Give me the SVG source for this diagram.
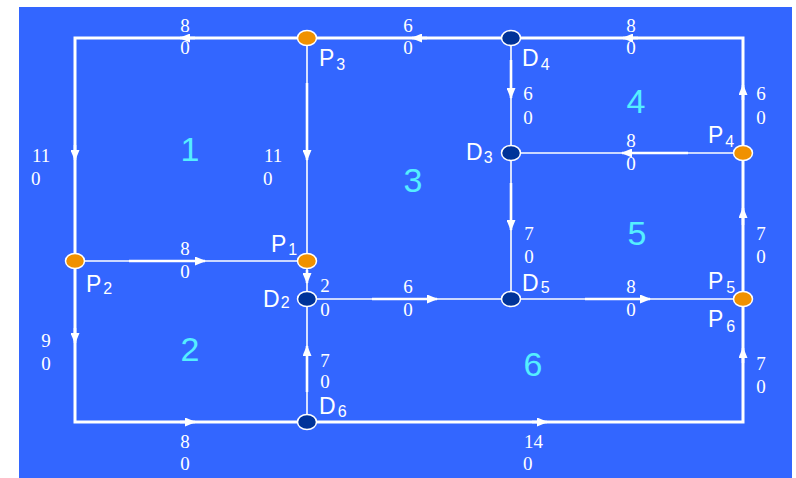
<svg xmlns="http://www.w3.org/2000/svg" width="796" height="478" viewBox="0 0 796 478">
<style>
.bg{fill:#3366FF}
.outer{fill:none;stroke:#FFFFFF;stroke-width:3;stroke-linejoin:miter}
.inner{fill:none;stroke:#FFFFFF;stroke-width:1.6}
.seg{fill:none;stroke:#FFFFFF;stroke-width:2.6;marker-end:url(#ah)}
.tip{fill:none;stroke:#FFFFFF;stroke-width:2.6;marker-end:url(#ah)}
.p{fill:#F09100;stroke:#FFFFFF;stroke-width:1.5}
.d{fill:#003399;stroke:#FFFFFF;stroke-width:1.5}
.w{font-family:"Liberation Serif","Times New Roman",serif;font-size:19px;fill:#FFFFFF}
.c{text-anchor:middle}
.nl{font-family:"Liberation Sans",Arial,sans-serif;font-size:23px;fill:#FFFFFF}
.sub{font-size:16px}
.rg{font-family:"Liberation Sans",Arial,sans-serif;font-size:34px;fill:#55EEFF;text-anchor:middle}
</style>
<defs>
<marker id="ah" markerUnits="userSpaceOnUse" markerWidth="11" markerHeight="9" refX="10" refY="4.5" orient="auto">
<path d="M0,0 L11,4.5 L0,9 z" fill="#FFFFFF"/>
</marker>
</defs>
<rect class="bg" x="19" y="7" width="773" height="471"/>
<g id="connectors">
<polyline class="outer" points="307,38 75,38 75,261"/>
<line class="outer" x1="511" y1="38" x2="307" y2="38"/>
<polyline class="outer" points="743,153 743,38 511,38"/>
<polyline class="outer" points="75,261 75,422 307,422"/>
<polyline class="outer" points="307,422 743,422 743,299"/>
<line class="outer" x1="743" y1="299" x2="743" y2="153"/>
<line class="inner" x1="307" y1="38" x2="307" y2="261"/>
<line class="inner" x1="75" y1="261" x2="307" y2="261"/>
<line class="inner" x1="307" y1="261" x2="307" y2="299"/>
<line class="inner" x1="511" y1="38" x2="511" y2="153"/>
<line class="inner" x1="743" y1="153" x2="511" y2="153"/>
<line class="inner" x1="511" y1="153" x2="511" y2="299"/>
<line class="inner" x1="307" y1="299" x2="511" y2="299"/>
<line class="inner" x1="511" y1="299" x2="743" y2="299"/>
<line class="inner" x1="307" y1="422" x2="307" y2="299"/>
<line class="tip" x1="195" y1="38" x2="180" y2="38"/>
<line class="tip" x1="75" y1="145" x2="75" y2="160"/>
<line class="tip" x1="427" y1="38" x2="412" y2="38"/>
<line class="tip" x1="638" y1="38" x2="623" y2="38"/>
<line class="tip" x1="743" y1="100" x2="743" y2="85"/>
<line class="seg" x1="307" y1="83" x2="307" y2="160"/>
<line class="seg" x1="511" y1="60" x2="511" y2="98"/>
<line class="seg" x1="688" y1="153" x2="622" y2="153"/>
<line class="seg" x1="129" y1="261" x2="205" y2="261"/>
<line class="tip" x1="307" y1="270" x2="307" y2="283"/>
<line class="seg" x1="511" y1="183" x2="511" y2="230"/>
<line class="tip" x1="743" y1="225" x2="743" y2="208"/>
<line class="seg" x1="372" y1="299" x2="437" y2="299"/>
<line class="seg" x1="585" y1="299" x2="650" y2="299"/>
<line class="tip" x1="75" y1="328" x2="75" y2="343"/>
<line class="seg" x1="307" y1="392" x2="307" y2="346"/>
<line class="tip" x1="180" y1="422" x2="195" y2="422"/>
<line class="tip" x1="532" y1="422" x2="547" y2="422"/>
<line class="tip" x1="743" y1="363" x2="743" y2="348"/>
</g>
<g id="edge-labels">
<text class="w c" x="185" y="32">8</text><text class="w c" x="185" y="54">0</text>
<text class="w c" x="408" y="32">6</text><text class="w c" x="408" y="54">0</text>
<text class="w c" x="631" y="32">8</text><text class="w c" x="631" y="54">0</text>
<text class="w c" x="528" y="100">6</text><text class="w c" x="528" y="124">0</text>
<text class="w c" x="761" y="100">6</text><text class="w c" x="761" y="124">0</text>
<text class="w c" x="631" y="147">8</text><text class="w c" x="631" y="170">0</text>
<text class="w" x="32" y="162">11</text><text class="w" x="31" y="185">0</text>
<text class="w" x="264" y="162">11</text><text class="w" x="263" y="185">0</text>
<text class="w c" x="185" y="255">8</text><text class="w c" x="185" y="278">0</text>
<text class="w c" x="325" y="292">2</text><text class="w c" x="325" y="316">0</text>
<text class="w c" x="408" y="293">6</text><text class="w c" x="408" y="316">0</text>
<text class="w c" x="529" y="240">7</text><text class="w c" x="529" y="263">0</text>
<text class="w c" x="761" y="240">7</text><text class="w c" x="761" y="263">0</text>
<text class="w c" x="631" y="293">8</text><text class="w c" x="631" y="316">0</text>
<text class="w c" x="46" y="347">9</text><text class="w c" x="46" y="370">0</text>
<text class="w c" x="325" y="367">7</text><text class="w c" x="325" y="388">0</text>
<text class="w c" x="185" y="448">8</text><text class="w c" x="185" y="470">0</text>
<text class="w" x="524" y="448">14</text><text class="w" x="523" y="470">0</text>
<text class="w c" x="761" y="370">7</text><text class="w c" x="761" y="393">0</text>
</g>
<g id="regions">
<text class="rg" x="190" y="161">1</text>
<text class="rg" x="190" y="361">2</text>
<text class="rg" x="413" y="192">3</text>
<text class="rg" x="636" y="113">4</text>
<text class="rg" x="637" y="245">5</text>
<text class="rg" x="533" y="376">6</text>
</g>
<g id="P3"><ellipse class="p" cx="307" cy="38" rx="9.5" ry="7.5"/><text class="nl" x="319" y="66">P<tspan class="sub" dx="2" dy="4">3</tspan></text></g>
<g id="D4"><ellipse class="d" cx="511" cy="38" rx="9.5" ry="7.5"/><text class="nl" x="522" y="66">D<tspan class="sub" dx="2" dy="4">4</tspan></text></g>
<g id="D3"><ellipse class="d" cx="511" cy="153" rx="9.5" ry="7.5"/><text class="nl" x="466" y="160">D<tspan class="sub" dx="1" dy="3">3</tspan></text></g>
<g id="P4"><ellipse class="p" cx="743" cy="153" rx="9.5" ry="7.5"/><text class="nl" x="708" y="143">P<tspan class="sub" dx="2" dy="4">4</tspan></text></g>
<g id="P2"><ellipse class="p" cx="75" cy="261" rx="9.5" ry="7.5"/><text class="nl" x="86" y="292">P<tspan class="sub" dx="2" dy="2">2</tspan></text></g>
<g id="P1"><ellipse class="p" cx="307" cy="261" rx="9.5" ry="7.5"/><text class="nl" x="271" y="252">P<tspan class="sub" dx="2" dy="3">1</tspan></text></g>
<g id="D2"><ellipse class="d" cx="307" cy="299" rx="9.5" ry="7.5"/><text class="nl" x="263" y="307">D<tspan class="sub" dx="1" dy="1">2</tspan></text></g>
<g id="D5"><ellipse class="d" cx="511" cy="299" rx="9.5" ry="7.5"/><text class="nl" x="522" y="291">D<tspan class="sub" dx="2" dy="2">5</tspan></text></g>
<g id="P5"><ellipse class="p" cx="743" cy="299" rx="9.5" ry="7.5"/><text class="nl" x="708" y="289">P<tspan class="sub" dx="3" dy="4">5</tspan></text></g>
<g id="P6"><text class="nl" x="708" y="327">P<tspan class="sub" dx="3" dy="5">6</tspan></text></g>
<g id="D6"><ellipse class="d" cx="307" cy="422" rx="9.5" ry="7.5"/><text class="nl" x="319" y="414">D<tspan class="sub" dx="2" dy="3">6</tspan></text></g>
</svg>
